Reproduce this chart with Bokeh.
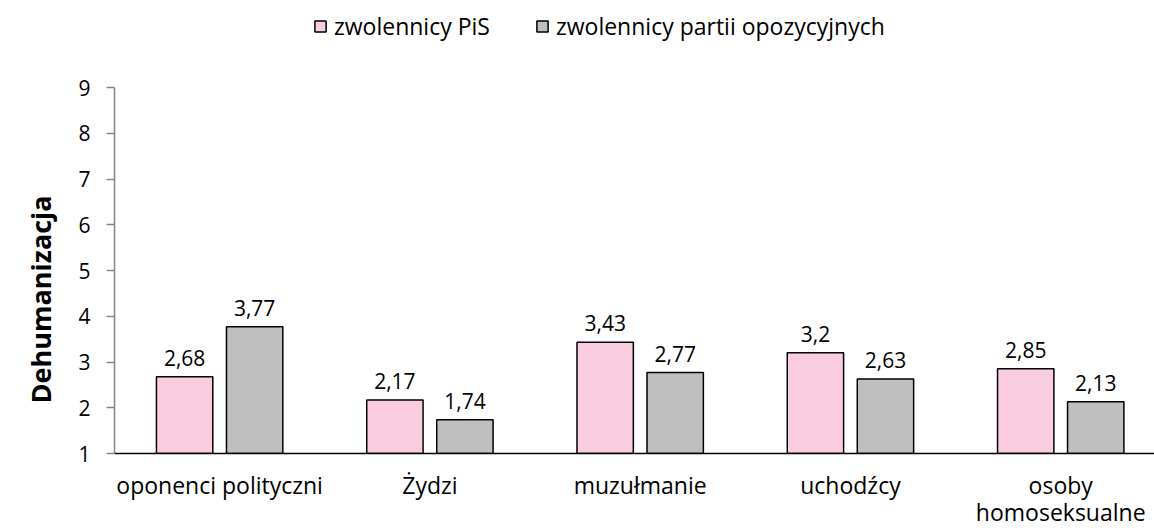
from bokeh.plotting import figure
from bokeh.models import Range1d, FixedTicker, Legend, LegendItem, Title
from bokeh.core.properties import value
from bokeh.embed import file_html
from bokeh.resources import INLINE

# ---- data ----
categories = ["oponenci polityczni", "Żydzi", "muzułmanie", "uchodźcy", "osoby\nhomoseksualne"]
series_names = ["zwolennicy PiS", "zwolennicy partii opozycyjnych"]
pis = [2.68, 2.17, 3.43, 3.2, 2.85]
opp = [3.77, 1.74, 2.77, 2.63, 2.13]
y_ticks = [1, 2, 3, 4, 5, 6, 7, 8, 9]
y_title = "Dehumanizacja"

FONT = "Open Sans"
PINK = "#F9CCDF"
GREY = "#BFBFBF"

centers = [i + 0.5 for i in range(len(categories))]
off = 0.1665
bw = 0.268
x_pis = [c - off for c in centers]
x_opp = [c + off for c in centers]
lab_pis = [str(v).replace(".", ",") for v in pis]
lab_opp = [str(v).replace(".", ",") for v in opp]

# frame spans the full height above the axis; the y axis line itself is bounded to 1..9
p = figure(width=1154, height=530, output_backend="svg", toolbar_location=None,
           x_range=Range1d(0, 4.946), y_range=Range1d(1, 10.902),
           min_border_left=114, min_border_right=0, min_border_top=0, min_border_bottom=77)
p.outline_line_color = None
p.xgrid.visible = False
p.ygrid.visible = False

r1 = p.vbar(x=x_pis, top=pis, bottom=1, width=bw, fill_color=PINK, line_color="black", line_width=1.5)
r2 = p.vbar(x=x_opp, top=opp, bottom=1, width=bw, fill_color=GREY, line_color="black", line_width=1.5)

for xs, ys, ls in ((x_pis, pis, lab_pis), (x_opp, opp, lab_opp)):
    p.text(x=xs, y=ys, text=ls, text_align="center", text_baseline="alphabetic", y_offset=-19,
           text_font=value(FONT), text_font_size="21px", text_color="black")

# x axis
xa = p.xaxis[0]
xa.ticker = FixedTicker(ticks=centers)
xa.major_label_overrides = {c: lab for c, lab in zip(centers, categories)}
xa.major_tick_line_color = None
xa.minor_tick_line_color = None
xa.axis_line_color = "black"
xa.axis_line_width = 1.5
xa.major_label_standoff = 9
xa.major_label_text_font = FONT
xa.major_label_text_font_size = "23px"
xa.major_label_text_line_height = 0.85
xa.major_label_text_color = "black"

# y axis
ya = p.yaxis[0]
ya.ticker = FixedTicker(ticks=y_ticks)
ya.bounds = (y_ticks[0], y_ticks[-1])
ya.axis_line_color = "#868686"
ya.axis_line_width = 1.5
ya.major_tick_line_color = "#868686"
ya.major_tick_line_width = 1.5
ya.major_tick_out = 8
ya.major_tick_in = 0
ya.minor_tick_line_color = None
ya.major_label_standoff = 16
ya.major_label_text_font = FONT
ya.major_label_text_font_size = "21px"
ya.major_label_text_color = "black"

ytitle = Title(text=y_title, align="left", offset=50, standoff=34,
               text_font=FONT, text_font_style="bold", text_font_size="27px", text_color="black")
p.add_layout(ytitle, "left")

legend = Legend(items=[LegendItem(label=series_names[0], renderers=[r1]),
                       LegendItem(label=series_names[1], renderers=[r2])],
                orientation="horizontal", location=(199, 411), padding=0, margin=0,
                spacing=45, glyph_width=14, glyph_height=14, label_standoff=7,
                border_line_alpha=0, background_fill_alpha=0,
                label_text_font=FONT, label_text_font_size="23px", label_text_color="black")
p.add_layout(legend)

open("out.html", "w").write(file_html(p, INLINE))
